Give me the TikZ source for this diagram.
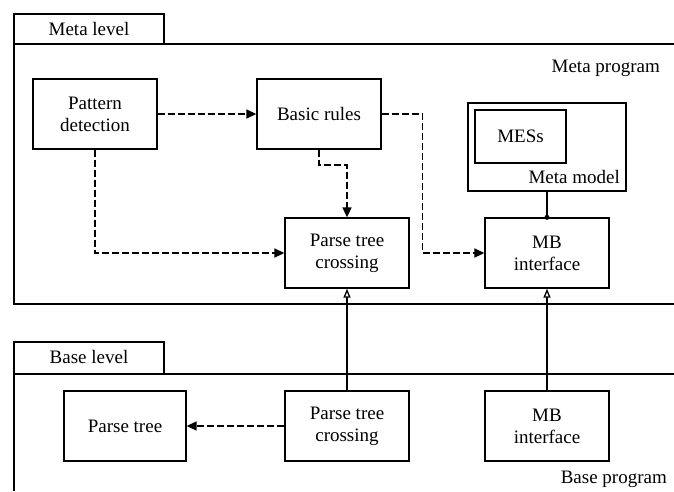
\documentclass[tikz,border=0pt]{standalone}
\usepackage{fontspec}
\setmainfont{Liberation Serif}
\usetikzlibrary{arrows.meta}
\begin{document}
\begin{tikzpicture}[x=1pt,y=-1pt,
  frame/.style={line width=1.3pt},
  block/.style={draw,line width=1.3pt,minimum width=124pt,minimum height=70pt,
    inner sep=0pt,align=center,font=\fontsize{19}{22}\selectfont},
  lbl/.style={inner sep=0pt,font=\fontsize{19}{22}\selectfont},
  dashflow/.style={line width=1.5pt,dash pattern=on 7pt off 3pt,
    -{Triangle[length=10pt,width=9pt]}},
  liftflow/.style={line width=1.3pt,-{Triangle[open,length=9pt,width=7pt]}}]
\useasboundingbox (0,0) rectangle (674,491);
\fill[white] (0,0) rectangle (674,491);

% meta level frame with tab
\draw[frame] (14,44) rectangle (164,14);
\node[lbl] (metatab) at (89,29) {Meta level};
\draw[frame] (674,44) -- (14,44) -- (14,304) -- (674,304);
\node[lbl,anchor=east] (metaprog) at (660,68) {Meta program};

% base level frame with tab
\draw[frame] (14,374) rectangle (164,342);
\node[lbl] (basetab) at (89,357) {Base level};
\draw[frame] (674,374) -- (14,374) -- (14,491);
\node[lbl,anchor=east] (baseprog) at (667,479) {Base program};

% meta level blocks
\node[block] (pd) at (95,114) {Pattern\\detection};
\node[block] (br) at (319,114) {Basic rules};
\node[block] (ptcM) at (347,253) {Parse tree\\crossing};
\node[block] (mbM) at (547,253) {MB\\interface};
\node[draw,line width=1.3pt,minimum width=158pt,minimum height=88pt,inner sep=0pt]
  (mm) at (547,147) {};
\node[block,minimum width=91pt,minimum height=53pt] (mes) at (520.5,136.5) {MESs};
\node[lbl,anchor=base east] (mmtext) at (620,183) {Meta model};

% base level blocks
\node[block,minimum width=122pt] (pt) at (125,426) {Parse tree};
\node[block] (ptcB) at (347,426) {Parse tree\\crossing};
\node[block] (mbB) at (547,426) {MB\\interface};

% dashed control flow in the meta program
\draw[dashflow] (pd.east) -- (br.west);
\draw[dashflow] (pd.south) |- (ptcM.west);
\coordinate (brbend) at (347,165);
\draw[dashflow] (br.south) |- (brbend) -- (ptcM.north);
\draw[dashflow] (br.east) -- ++(41,0) |- (mbM.west);

% meta model attached to the interface
\draw[line width=1.3pt] (mm.south) -- (mbM.north);
\fill (mbM.north) circle (2.5pt);

% reification links from the base program
\draw[liftflow] (ptcB.north) -- (ptcM.south);
\draw[liftflow] (mbB.north) -- (mbM.south);
\draw[dashflow] (ptcB.west) -- (pt.east);
\end{tikzpicture}
\end{document}
